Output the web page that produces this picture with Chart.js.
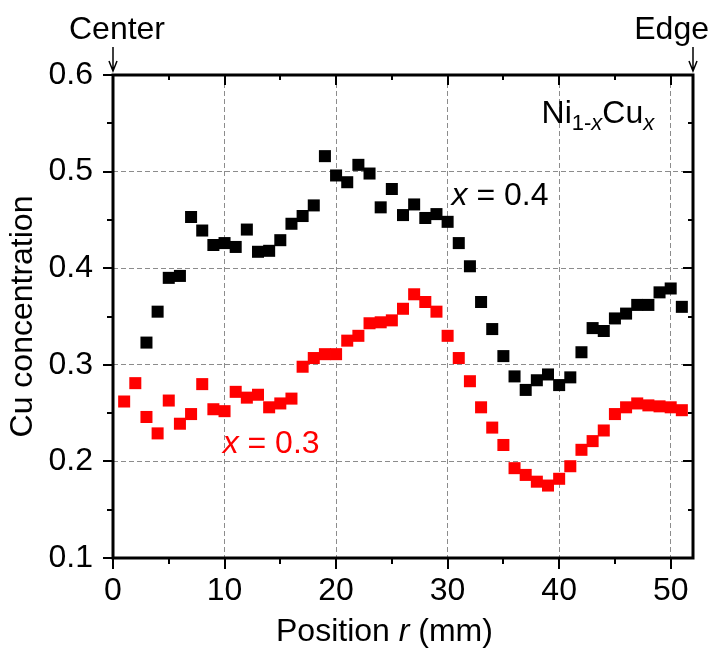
<!DOCTYPE html>
<html><head><meta charset="utf-8">
<script src="https://cdn.jsdelivr.net/npm/chart.js@4/dist/chart.umd.min.js"></script>
<style>html,body{margin:0;padding:0;background:#fff}#wrap{width:713px;height:648px;position:relative}</style>
</head><body><div id="wrap"><canvas id="c"></canvas></div>
<script>
// ---- data ----
const positionsX04 = [3,4,5,6,7,8,9,10,11,12,13,14,15,16,17,18,19,20,21,22,23,24,25,26,27,28,29,30,31,32,33,34,35,36,37,38,39,40,41,42,43,44,45,46,47,48,49,50,51];
const cuX04 = [0.323,0.355,0.390,0.392,0.453,0.439,0.424,0.426,0.422,0.440,0.417,0.418,0.429,0.446,0.454,0.465,0.516,0.496,0.489,0.507,0.498,0.463,0.482,0.455,0.466,0.452,0.456,0.448,0.426,0.402,0.365,0.337,0.309,0.288,0.274,0.284,0.290,0.279,0.287,0.313,0.338,0.335,0.348,0.353,0.362,0.362,0.375,0.379,0.360];
const positionsX03 = [1,2,3,4,5,6,7,8,9,10,11,12,13,14,15,16,17,18,19,20,21,22,23,24,25,26,27,28,29,30,31,32,33,34,35,36,37,38,39,40,41,42,43,44,45,46,47,48,49,50,51];
const cuX03 = [0.262,0.281,0.246,0.229,0.263,0.239,0.249,0.280,0.254,0.252,0.272,0.266,0.269,0.256,0.260,0.265,0.298,0.307,0.311,0.311,0.325,0.330,0.343,0.344,0.346,0.358,0.373,0.365,0.355,0.330,0.307,0.283,0.256,0.235,0.217,0.193,0.186,0.179,0.175,0.182,0.195,0.212,0.221,0.232,0.249,0.256,0.260,0.258,0.257,0.256,0.253];
const xTickValues = [0,10,20,30,40,50];
const xMinorTickValues = [5,15,25,35,45];
const yTickValues = [0.1,0.2,0.3,0.4,0.5,0.6];
const yMinorTickValues = [0.15,0.25,0.35,0.45,0.55];
const xRange = [0, 52];
const yRange = [0.1, 0.6];

const FONT = '"Liberation Sans", Arial, sans-serif';
const toPts = (xs, ys) => xs.map((x, i) => ({x: x, y: ys[i]}));

const framePlugin = {
  id: 'frame',
  afterDraw(chart) {
    const {ctx, chartArea: a, scales: {x, y}} = chart;
    ctx.save();
    ctx.strokeStyle = '#000';
    ctx.lineCap = 'butt';
    // ticks
    ctx.lineWidth = 2;
    ctx.beginPath();
    yTickValues.forEach(v => {
      const p = Math.round(y.getPixelForValue(v)) ;
      ctx.moveTo(a.left - 10, p); ctx.lineTo(a.left, p);
      ctx.moveTo(a.right, p); ctx.lineTo(a.right - 10, p);
    });
    yMinorTickValues.forEach(v => {
      const p = Math.round(y.getPixelForValue(v));
      ctx.moveTo(a.left - 6, p); ctx.lineTo(a.left, p);
      ctx.moveTo(a.right, p); ctx.lineTo(a.right - 5, p);
    });
    xTickValues.forEach(v => {
      const p = Math.round(x.getPixelForValue(v));
      ctx.moveTo(p, a.bottom); ctx.lineTo(p, a.bottom + 11);
      ctx.moveTo(p, a.top); ctx.lineTo(p, a.top + 10);
    });
    xMinorTickValues.forEach(v => {
      const p = Math.round(x.getPixelForValue(v));
      ctx.moveTo(p, a.bottom); ctx.lineTo(p, a.bottom + 6);
      ctx.moveTo(p, a.top); ctx.lineTo(p, a.top + 5);
    });
    ctx.stroke();
    // frame
    ctx.lineWidth = 3;
    ctx.strokeRect(a.left, a.top, a.right - a.left, a.bottom - a.top);

    // Center / Edge arrows
    ctx.lineWidth = 1.5;
    const arrow = (px) => {
      ctx.beginPath();
      ctx.moveTo(px, 47); ctx.lineTo(px, 71);
      ctx.moveTo(px - 4, 61); ctx.lineTo(px, 71); ctx.lineTo(px + 4, 61);
      ctx.stroke();
    };
    arrow(x.getPixelForValue(xRange[0]));
    arrow(x.getPixelForValue(xRange[1]));

    ctx.fillStyle = '#000';
    ctx.textBaseline = 'alphabetic';
    ctx.font = '32px ' + FONT;
    ctx.textAlign = 'center';
    ctx.fillText('Center', x.getPixelForValue(xRange[0]) + 4, 39);
    ctx.textAlign = 'right';
    ctx.fillText('Edge', 709, 39);

    // x axis title with italic r
    ctx.textAlign = 'left';
    const parts = [['Position ', ''], ['r', 'italic '], [' (mm)', '']];
    let tx = 276;
    parts.forEach(([t, st]) => {
      ctx.font = st + '32px ' + FONT;
      ctx.fillText(t, tx, 641);
      tx += ctx.measureText(t).width;
    });

    // x = 0.4 / x = 0.3 labels
    const label = (px, py, color, val) => {
      ctx.fillStyle = color;
      ctx.font = 'italic 32px ' + FONT;
      ctx.fillText('x', px, py);
      const w = ctx.measureText('x').width;
      ctx.font = '32px ' + FONT;
      ctx.fillText(' = ' + val, px + w, py);
    };
    label(x.getPixelForValue(30.35), y.getPixelForValue(0.4656), '#000', '0.4');
    label(x.getPixelForValue(9.83), y.getPixelForValue(0.209), '#ff0000', '0.3');

    // Ni1-xCux
    ctx.fillStyle = '#000';
    let nx = x.getPixelForValue(38.42);
    const nb = y.getPixelForValue(0.5504);
    const seg = [['Ni', '32px ', 0], ['1-', '22px ', 7], ['x', 'italic 22px ', 7], ['Cu', '32px ', 0], ['x', 'italic 22px ', 7]];
    seg.forEach(([t, f, dy]) => {
      ctx.font = f + FONT;
      ctx.fillText(t, nx, nb + dy);
      nx += ctx.measureText(t).width;
    });
    ctx.restore();
  }
};

new Chart(document.getElementById('c'), {
  type: 'scatter',
  data: {
    datasets: [
      {label: 'x = 0.4', data: toPts(positionsX04, cuX04), backgroundColor: '#000000', borderWidth: 0, pointStyle: 'rect', pointRadius: 8.5, pointHoverRadius: 8.5},
      {label: 'x = 0.3', data: toPts(positionsX03, cuX03), backgroundColor: '#ff0000', borderWidth: 0, pointStyle: 'rect', pointRadius: 8.5, pointHoverRadius: 8.5}
    ]
  },
  options: {
    responsive: true,
    maintainAspectRatio: false,
    animation: false,
    layout: {padding: {left: 0, right: 20, top: 75, bottom: 0}},
    plugins: {legend: {display: false}, tooltip: {enabled: false}},
    scales: {
      x: {
        type: 'linear', min: xRange[0], max: xRange[1],
        afterBuildTicks: s => { s.ticks = xTickValues.map(v => ({value: v})); },
        afterFit: s => { s.height = 90; },
        ticks: {font: {family: FONT, size: 32}, color: '#000', padding: 14, maxRotation: 0, callback: v => String(v)},
        grid: {drawTicks: false, lineWidth: 1, color: c => (c.tick && c.tick.value > xRange[0] && c.tick.value < xRange[1]) ? '#8c8c8c' : 'rgba(0,0,0,0)'},
        border: {display: false, dash: [5, 3]}
      },
      y: {
        type: 'linear', min: yRange[0], max: yRange[1],
        afterBuildTicks: s => { s.ticks = yTickValues.map(v => ({value: v})); },
        afterFit: s => { s.width = 113; },
        ticks: {font: {family: FONT, size: 32}, color: '#000', padding: 20, callback: v => v.toFixed(1)},
        grid: {drawTicks: false, lineWidth: 1, color: c => (c.tick && c.tick.value > yRange[0] + 1e-9 && c.tick.value < yRange[1] - 1e-9) ? '#8c8c8c' : 'rgba(0,0,0,0)'},
        border: {display: false, dash: [5, 3]},
        title: {display: true, text: 'Cu concentration', font: {family: FONT, size: 32}, color: '#000', padding: {top: 4, bottom: 0}}
      }
    }
  },
  plugins: [framePlugin]
});
</script>
</body></html>
